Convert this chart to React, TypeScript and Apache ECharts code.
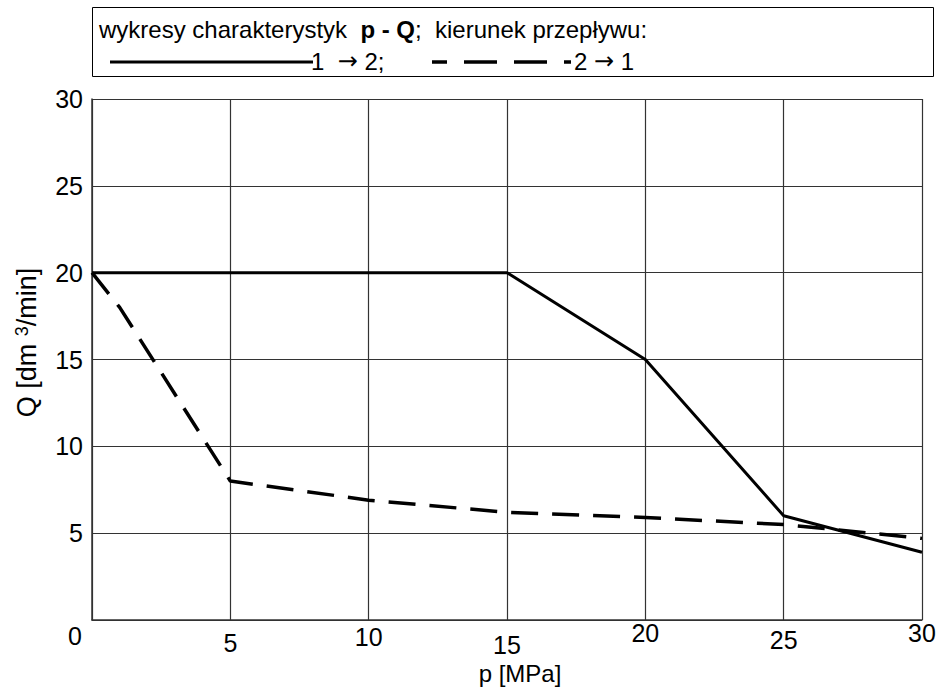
import React, { useEffect, useRef } from "react";
import * as echarts from "echarts";

// p [MPa] values and Q [dm3/min] values
const solidP = [0, 15, 20, 25, 30];
const solidQ = [20, 20, 15, 6, 3.9];
const dashedP = [0, 1, 5, 10, 15, 20, 25, 30];
const dashedQ = [20, 18, 8, 6.9, 6.2, 5.9, 5.5, 4.7];
const xTicks = [0, 5, 10, 15, 20, 25, 30];
const yTicks = [0, 5, 10, 15, 20, 25, 30];

const FONT = "'Liberation Sans', Arial, sans-serif";
const ARROW_FONT = "'DejaVu Sans', sans-serif";

export default function App() {
  const ref = useRef<HTMLDivElement>(null);
  useEffect(() => {
    if (!ref.current) return;
    const chart = echarts.init(ref.current, null, { renderer: "svg" });
    const xPad: Record<number, number[]> = {
      0: [3, 34, 0, 0],
      5: [10, 0, 0, 0],
      10: [4, 0, 0, 0],
      15: [12, 0, 0, 0],
      20: [0, 0, 0, 0],
      25: [7, 0, 0, 0],
      30: [0, 0, 0, 0],
    };
    const rich: Record<string, any> = {};
    xTicks.forEach((t) => {
      rich["t" + t] = {
        fontSize: 25,
        fontFamily: FONT,
        color: "#000",
        padding: xPad[t],
        verticalAlign: "top",
      };
    });
    const arrowRich = {
      ar: { fontSize: 24, fontFamily: ARROW_FONT, fill: "#000" },
    };
    chart.setOption({
      animation: false,
      textStyle: { fontFamily: FONT },
      grid: { left: 92, right: 18, top: 99, bottom: 68, show: false, outerBoundsMode: "none", containLabel: false },
      xAxis: {
        type: "value",
        min: 0,
        max: 30,
        interval: 5,
        name: "p [MPa]",
        nameLocation: "middle",
        nameGap: 36,
        nameTextStyle: { fontSize: 24, color: "#000", fontFamily: FONT, padding: [0, 0, 0, 26] },
        axisLine: { show: true, lineStyle: { color: "#333", width: 1.5 } },
        axisTick: { show: false },
        splitLine: { show: true, lineStyle: { color: "#333", width: 1.2 } },
        axisLabel: {
          margin: 0,
          verticalAlign: "top",
          formatter: (v: number) => `{t${v}|${v}}`,
          rich,
        },
      },
      yAxis: {
        type: "value",
        min: 0,
        max: 30,
        interval: 5,
        name: "Q [dm {sup|3}/min]",
        nameLocation: "middle",
        nameGap: 52,
        nameRotate: 90,
        nameTextStyle: {
          fontSize: 27,
          color: "#000",
          fontFamily: FONT,
          padding: [0, 0, 0, 34],
          rich: {
            sup: { fontSize: 18, verticalAlign: "top", fontFamily: FONT, color: "#000", padding: [0, 0, 8, 0] },
          },
        },
        axisLine: { show: true, lineStyle: { color: "#333", width: 1.5 } },
        axisTick: { show: false },
        splitLine: { show: true, lineStyle: { color: "#333", width: 1.2 } },
        axisLabel: {
          margin: 9,
          fontSize: 25,
          color: "#000",
          fontFamily: FONT,
          formatter: (v: number) => (v === 0 ? "" : String(v)),
        },
      },
      series: [
        {
          type: "line",
          name: "1 → 2",
          data: solidP.map((p, i) => [p, solidQ[i]]),
          symbol: "none",
          lineStyle: { color: "#000", width: 3 },
        },
        {
          type: "line",
          name: "2 → 1",
          data: dashedP.map((p, i) => [p, dashedQ[i]]),
          symbol: "none",
          lineStyle: { color: "#000", width: 3.5, type: [27, 14] },
        },
      ],
      graphic: [
        {
          type: "rect",
          shape: { x: 92.5, y: 7.5, width: 841, height: 69 },
          style: { fill: "#fff", stroke: "#000", lineWidth: 1 },
          z: 10,
        },
        {
          type: "text",
          x: 99,
          y: 29,
          z: 11,
          style: {
            text: "wykresy charakterystyk  {b|p - Q};  kierunek przepływu:",
            fontSize: 24,
            fontFamily: FONT,
            fill: "#000",
            verticalAlign: "middle",
            rich: { b: { fontSize: 24, fontWeight: "bold", fontFamily: FONT, fill: "#000" } },
          },
        },
        {
          type: "line",
          z: 11,
          shape: { x1: 110, y1: 62, x2: 313, y2: 62 },
          style: { stroke: "#000", lineWidth: 3 },
        },
        {
          type: "text",
          x: 311,
          y: 61,
          z: 11,
          style: {
            text: "1  {ar|→} 2;",
            fontSize: 24,
            fontFamily: FONT,
            fill: "#000",
            verticalAlign: "middle",
            rich: arrowRich,
          },
        },
        {
          type: "line",
          z: 11,
          shape: { x1: 432, y1: 62, x2: 571, y2: 62 },
          style: { stroke: "#000", lineWidth: 3.5, lineDash: [33, 17], lineDashOffset: 18 },
        },
        {
          type: "text",
          x: 574,
          y: 61,
          z: 11,
          style: {
            text: "2 {ar|→} 1",
            fontSize: 24,
            fontFamily: FONT,
            fill: "#000",
            verticalAlign: "middle",
            rich: arrowRich,
          },
        },
      ],
    });
    return () => chart.dispose();
  }, []);
  return (
    <div
      ref={ref}
      style={{ position: "fixed", left: 0, top: 0, width: 940, height: 688, background: "#fff" }}
    />
  );
}
